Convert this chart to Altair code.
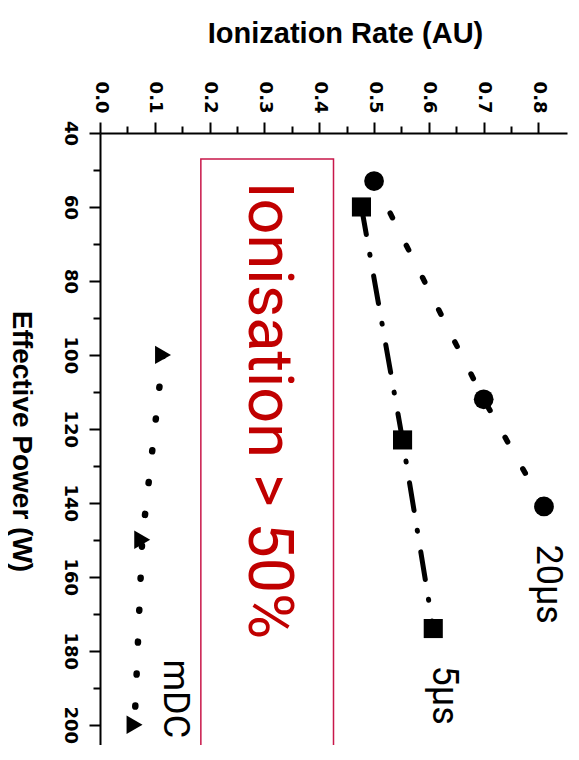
import altair as alt
import pandas as pd

# ---- data ----
series = ["20µs", "5µs", "mDC"]
rate_20us = [0.50, 0.70, 0.81]
power_20us = [53, 112, 141]
rate_5us = [0.477, 0.552, 0.608]
power_5us = [60, 123, 174]
rate_mdc = [0.115, 0.077, 0.063]
power_mdc = [100, 150, 200]

label_rate = [0.797, 0.607, 0.117]
label_power = [162, 192, 193]

x_ticks = [0.0, 0.05, 0.1, 0.15, 0.2, 0.25, 0.3, 0.35, 0.4, 0.45,
           0.5, 0.55, 0.6, 0.65, 0.7, 0.75, 0.8]
y_ticks = [40, 50, 60, 70, 80, 90, 100, 110, 120, 130, 140, 150,
           160, 170, 180, 190, 200]

box_rate = [0.184, 0.426]
box_power = [47, 215]
note_text = "Ionisation > 50%"
note_rate = 0.272
note_power = 115

W, H = 467, 612
X_MAX = 0.852
Y_MAX = 40 + H / 3.698

pts = pd.DataFrame({
    "series": [series[0]] * 3 + [series[1]] * 3 + [series[2]] * 3,
    "rate": rate_20us + rate_5us + rate_mdc,
    "power": power_20us + power_5us + power_mdc,
})
labels = pd.DataFrame({"series": series, "rate": label_rate, "power": label_power})
box = pd.DataFrame({"rate": [box_rate[0]], "rate2": [box_rate[1]],
                    "power": [box_power[0]], "power2": [box_power[1]]})
note = pd.DataFrame({"text": [note_text], "rate": [note_rate], "power": [note_power]})

xscale = alt.Scale(domain=[0, X_MAX], nice=False, zero=False)
yscale = alt.Scale(domain=[40, Y_MAX], nice=False, zero=False, reverse=True)

xaxis = alt.Axis(
    orient="top", title="Ionization Rate (AU)", values=x_ticks,
    labelExpr="round(datum.value*100) % 10 == 0 ? format(datum.value, '.1f') : ''",
    tickSize={"condition": {"test": "round(datum.value*100) % 10 == 0", "value": 11}, "value": 7},
    labelAngle=90, labelAlign="right", labelBaseline="middle", labelPadding=9,
    labelFlush=False, labelOverlap=False,
    titleFont="Liberation Sans", titleFontWeight="bold", titleFontSize=29,
    titleX=245, titleY=-91, titleAlign="center", titleBaseline="alphabetic", titleAngle=0,
)
yaxis = alt.Axis(
    orient="left", title="Effective Power (W)", values=y_ticks,
    labelExpr="datum.value % 20 == 0 ? datum.label : ''",
    tickSize={"condition": {"test": "datum.value % 20 == 0", "value": 11}, "value": 7},
    labelAngle=90, labelAlign="center", labelBaseline="top", labelPadding=11,
    labelFlush=False, labelOverlap=False,
    titleFont="Liberation Sans", titleFontWeight="bold", titleFontSize=28,
    titleX=-88, titleY=308, titleAlign="center", titleBaseline="alphabetic", titleAngle=90,
)

X = alt.X("rate:Q", scale=xscale, axis=xaxis)
Y = alt.Y("power:Q", scale=yscale, axis=yaxis)

rect = alt.Chart(box).mark_rect(fill="white", fillOpacity=0, stroke="#c8174a",
                                strokeWidth=1.5, clip=True).encode(
    x=X, x2="rate2:Q", y=Y, y2="power2:Q")

dashes = {series[0]: ([5, 31], 5.5), series[1]: ([28, 20, 1, 21], 5), series[2]: ([1, 31], 6.5)}
lines = []
for s in series:
    d, w = dashes[s]
    lines.append(
        alt.Chart(pts[pts.series == s]).mark_line(
            color="black", strokeDash=d, strokeWidth=w, strokeCap="round"
        ).encode(x=X, y=Y, order="power:Q")
    )

shape_range = ["circle", "square", "triangle-right"]
size_range = [390, 340, 760]
points = alt.Chart(pts).mark_point(filled=True, color="black", opacity=1).encode(
    x=X, y=Y,
    shape=alt.Shape("series:N", scale=alt.Scale(domain=series, range=shape_range), legend=None),
    size=alt.Size("series:N", scale=alt.Scale(domain=series, range=size_range), legend=None),
)

series_text = alt.Chart(labels).mark_text(
    angle=90, align="center", baseline="alphabetic",
    font="Roboto", fontSize=36, color="black"
).encode(x=X, y=Y, text="series:N")

note_mark = alt.Chart(note).mark_text(
    angle=90, align="center", baseline="alphabetic",
    font="Roboto", fontSize=63, color="#c00000"
).encode(x=X, y=Y, text="text:N")

chart = alt.layer(rect, *lines, points, series_text, note_mark).properties(
    width=W, height=H,
    autosize=alt.AutoSizeParams(type="none"),
    padding={"left": 92, "top": 125, "right": 4, "bottom": 0},
).configure_axis(
    domainColor="black", domainWidth=2, tickColor="black", tickWidth=2,
    grid=False, labelColor="black", titleColor="black",
    labelFont="DejaVu Sans", labelFontWeight="bold", labelFontSize=18,
).configure_view(stroke=None)

chart.save("out.html", embed_options={"renderer": "svg", "actions": False})
